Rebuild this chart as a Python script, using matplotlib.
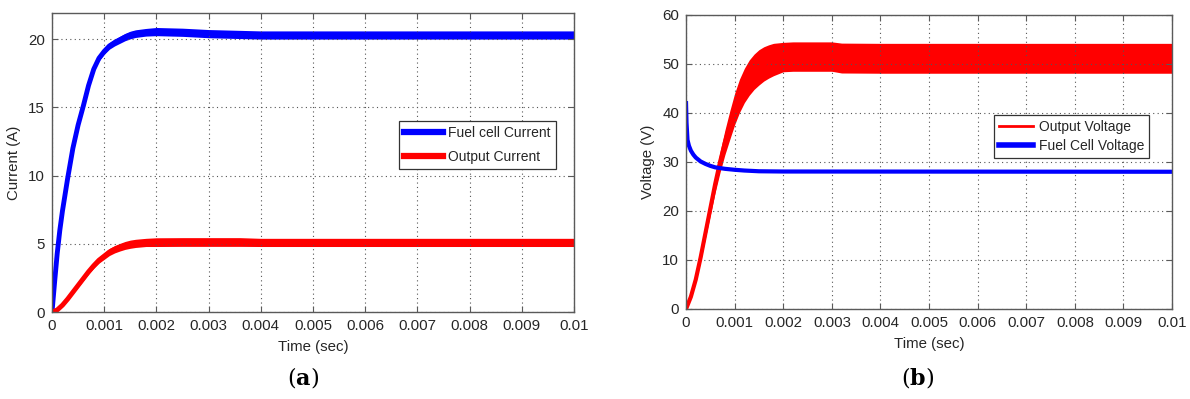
"""
Fuel cell converter simulation: current and voltage responses
"""

import matplotlib
matplotlib.use("Agg")
import matplotlib.pyplot as plt
import numpy as np

# (a) currents
t_fc_current = [0, 0.00005, 0.0001, 0.00015, 0.0002, 0.0003, 0.0004, 0.0005, 0.0006,
                0.0007, 0.0008, 0.0009, 0.001, 0.0011, 0.0012, 0.0013, 0.0014, 0.0015,
                0.0016, 0.0018, 0.002, 0.0025, 0.003, 0.0035, 0.004, 0.01]
fc_current = [0, 2.2, 4.3, 6.0, 7.4, 9.8, 12.0, 13.7, 15.1, 16.6, 17.8, 18.6, 19.1,
              19.5, 19.75, 19.95, 20.15, 20.3, 20.4, 20.5, 20.55, 20.5, 20.4, 20.35,
              20.3, 20.3]
fc_current_ripple = [0, 0.05, 0.05, 0.05, 0.05, 0.08, 0.1, 0.12, 0.14, 0.16, 0.18, 0.2,
                     0.22, 0.24, 0.25, 0.26, 0.27, 0.28, 0.28, 0.28, 0.3, 0.3, 0.3, 0.3,
                     0.3, 0.3]

t_out_current = [0, 0.0001, 0.0002, 0.0003, 0.0004, 0.0005, 0.0006, 0.0007, 0.0008,
                 0.0009, 0.001, 0.0011, 0.0012, 0.0013, 0.0014, 0.0015, 0.0016, 0.0018,
                 0.002, 0.0025, 0.003, 0.0036, 0.004, 0.01]
out_current = [0, 0.15, 0.5, 0.95, 1.45, 1.95, 2.45, 2.95, 3.4, 3.8, 4.1, 4.4, 4.6,
               4.75, 4.88, 4.97, 5.03, 5.1, 5.12, 5.13, 5.13, 5.13, 5.1, 5.1]
out_current_ripple = [0, 0.05, 0.08, 0.1, 0.12, 0.14, 0.16, 0.18, 0.2, 0.22, 0.24, 0.26,
                      0.27, 0.28, 0.29, 0.3, 0.3, 0.3, 0.32, 0.32, 0.32, 0.32, 0.3, 0.3]

# (b) voltages
t_out_voltage = [0, 0.0001, 0.0002, 0.0003, 0.0004, 0.0005, 0.0006, 0.0007, 0.0008,
                 0.0009, 0.001, 0.0011, 0.0012, 0.0013, 0.0014, 0.0015, 0.0016, 0.0017,
                 0.0018, 0.002, 0.0022, 0.0025, 0.003, 0.0032, 0.004, 0.01]
out_voltage = [0, 2.5, 6, 10.5, 15.5, 20.5, 25.5, 30, 34, 37.5, 40.8, 43.5, 45.6, 47.2,
               48.4, 49.3, 50.0, 50.5, 50.9, 51.4, 51.5, 51.5, 51.5, 51.2, 51.15, 51.15]
out_voltage_ripple = [0, 0.3, 0.5, 0.8, 1.0, 1.3, 1.7, 2.1, 2.5, 2.9, 3.2, 3.4, 3.5, 3.6,
                      3.6, 3.6, 3.5, 3.4, 3.3, 3.0, 3.0, 3.0, 3.0, 3.05, 3.05, 3.05]

t_fc_voltage = [0, 0.00001, 0.00003, 0.00006, 0.0001, 0.00015, 0.0002, 0.0003, 0.0004,
                0.0005, 0.0006, 0.0008, 0.001, 0.0012, 0.0015, 0.002, 0.01]
fc_voltage = [42, 38, 34.5, 33.3, 32.3, 31.5, 30.9, 30.1, 29.6, 29.2, 28.9, 28.6, 28.4,
              28.25, 28.1, 28.05, 28.0]

x_ticks = [0, 0.001, 0.002, 0.003, 0.004, 0.005, 0.006, 0.007, 0.008, 0.009, 0.01]
x_tick_labels = ["0", "0.001", "0.002", "0.003", "0.004", "0.005", "0.006", "0.007",
                 "0.008", "0.009", "0.01"]

plt.rcParams["font.family"] = ["Liberation Sans", "DejaVu Sans"]
plt.rcParams["mathtext.fontset"] = "dejavuserif"

TEXT = "#262626"
SPINE = "#5a5a5a"


def style_axes(ax, ylim, yticks, ylabel):
    """MATLAB-like look: inner ticks on all sides, dotted grid"""
    ax.set_xlim(0, 0.01)
    ax.set_ylim(*ylim)
    ax.set_xticks(x_ticks)
    ax.set_xticklabels(x_tick_labels)
    ax.set_yticks(yticks)
    ax.tick_params(direction="in", length=4, width=0.8, color=SPINE, labelsize=10.8,
                   labelcolor=TEXT, top=True, right=True, pad=5)
    ax.grid(True, linestyle=(0, (1, 3)), color="#555555", linewidth=0.8)
    for spine in ax.spines.values():
        spine.set_color(SPINE)
        spine.set_linewidth(1.0)
    ax.set_xlabel("Time (sec)", fontsize=10.8, color=TEXT, labelpad=5)
    ax.set_ylabel(ylabel, fontsize=10.8, color=TEXT, labelpad=5)


def add_legend(ax, anchor, spacing, handle_len):
    leg = ax.legend(loc="lower right", bbox_to_anchor=anchor, fontsize=10,
                    fancybox=False, edgecolor="#333333", framealpha=1, borderpad=0.35,
                    handlelength=handle_len, handletextpad=0.4, labelspacing=spacing,
                    borderaxespad=0)
    leg.get_frame().set_linewidth(0.9)
    for text in leg.get_texts():
        text.set_color(TEXT)
    return leg


fig = plt.figure(figsize=(11.9, 3.99), dpi=100)
ax_a = fig.add_axes([0.0437, 0.218, 0.4387, 0.749])
ax_b = fig.add_axes([0.5765, 0.2256, 0.4084, 0.737])

# (a)
ax_a.fill_between(t_fc_current, np.subtract(fc_current, fc_current_ripple),
                  np.add(fc_current, fc_current_ripple), color="blue", lw=0)
ax_a.plot(t_fc_current, fc_current, color="blue", lw=3.5, label="Fuel cell Current")
ax_a.fill_between(t_out_current, np.subtract(out_current, out_current_ripple),
                  np.add(out_current, out_current_ripple), color="red", lw=0)
ax_a.plot(t_out_current, out_current, color="red", lw=3.5, label="Output Current")
style_axes(ax_a, (0, 21.9), [0, 5, 10, 15, 20], "Current (A)")
leg = add_legend(ax_a, (0.965, 0.478), 0.75, 2.8)
for line in leg.get_lines():
    line.set_linewidth(4.5)

# (b)
ax_b.fill_between(t_out_voltage, np.subtract(out_voltage, out_voltage_ripple),
                  np.add(out_voltage, out_voltage_ripple), color="red", lw=0)
ax_b.plot(t_out_voltage, out_voltage, color="red", lw=3, label="Output Voltage")
ax_b.plot(t_fc_voltage, fc_voltage, color="blue", lw=3, label="Fuel Cell Voltage")
style_axes(ax_b, (0, 60), [0, 10, 20, 30, 40, 50, 60], "Voltage (V)")
leg = add_legend(ax_b, (0.953, 0.514), 0.35, 2.5)
leg.get_lines()[0].set_linewidth(2)
leg.get_lines()[1].set_linewidth(4)

fig.text(0.2546, 0.055, r"($\mathbf{a}$)", fontsize=16, ha="center", va="center",
         family="DejaVu Serif")
fig.text(0.771, 0.055, r"($\mathbf{b}$)", fontsize=16, ha="center", va="center",
         family="DejaVu Serif")

fig.savefig("out.png", dpi=100)
